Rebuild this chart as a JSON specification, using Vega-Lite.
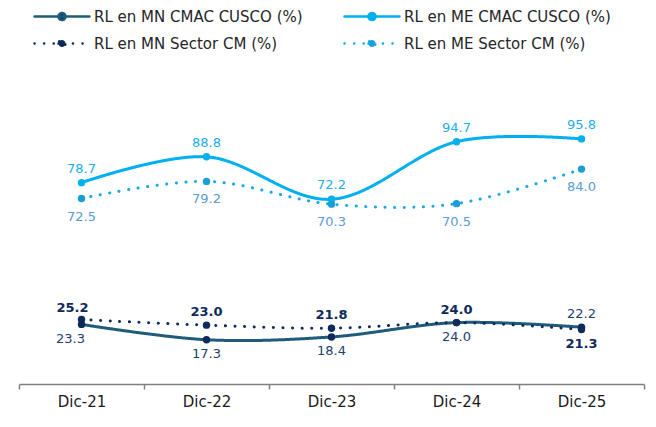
{
  "$schema": "https://vega.github.io/schema/vega-lite/v6.json",
  "width": 625,
  "height": 307,
  "autosize": {"type": "none"},
  "padding": {"left": 19, "top": 77, "right": 12, "bottom": 43},
  "background": "white",
  "config": {"view": {"stroke": null}, "font": "DejaVu Sans"},
  "data": {
    "values": [
      {"fecha": "Dic-21", "serie": "RL en MN CMAC CUSCO (%)", "valor": 23.3},
      {"fecha": "Dic-22", "serie": "RL en MN CMAC CUSCO (%)", "valor": 17.3},
      {"fecha": "Dic-23", "serie": "RL en MN CMAC CUSCO (%)", "valor": 18.4},
      {"fecha": "Dic-24", "serie": "RL en MN CMAC CUSCO (%)", "valor": 24.0},
      {"fecha": "Dic-25", "serie": "RL en MN CMAC CUSCO (%)", "valor": 22.2},
      {"fecha": "Dic-21", "serie": "RL en ME CMAC CUSCO (%)", "valor": 78.7},
      {"fecha": "Dic-22", "serie": "RL en ME CMAC CUSCO (%)", "valor": 88.8},
      {"fecha": "Dic-23", "serie": "RL en ME CMAC CUSCO (%)", "valor": 72.2},
      {"fecha": "Dic-24", "serie": "RL en ME CMAC CUSCO (%)", "valor": 94.7},
      {"fecha": "Dic-25", "serie": "RL en ME CMAC CUSCO (%)", "valor": 95.8},
      {"fecha": "Dic-21", "serie": "RL en MN Sector CM (%)", "valor": 25.2},
      {"fecha": "Dic-22", "serie": "RL en MN Sector CM (%)", "valor": 23.0},
      {"fecha": "Dic-23", "serie": "RL en MN Sector CM (%)", "valor": 21.8},
      {"fecha": "Dic-24", "serie": "RL en MN Sector CM (%)", "valor": 24.0},
      {"fecha": "Dic-25", "serie": "RL en MN Sector CM (%)", "valor": 21.3},
      {"fecha": "Dic-21", "serie": "RL en ME Sector CM (%)", "valor": 72.5},
      {"fecha": "Dic-22", "serie": "RL en ME Sector CM (%)", "valor": 79.2},
      {"fecha": "Dic-23", "serie": "RL en ME Sector CM (%)", "valor": 70.3},
      {"fecha": "Dic-24", "serie": "RL en ME Sector CM (%)", "valor": 70.5},
      {"fecha": "Dic-25", "serie": "RL en ME Sector CM (%)", "valor": 84.0}
    ]
  },
  "encoding": {
    "x": {
      "field": "fecha",
      "type": "ordinal",
      "sort": ["Dic-21", "Dic-22", "Dic-23", "Dic-24", "Dic-25"],
      "scale": {"type": "band", "paddingInner": 0, "paddingOuter": 0},
      "axis": {
        "title": null,
        "labelAngle": 0,
        "labelFont": "DejaVu Sans",
        "labelFontSize": 15,
        "labelColor": "#1a1a1a",
        "labelPadding": 5,
        "domainColor": "#808080",
        "domainWidth": 1.5,
        "tickColor": "#808080",
        "tickWidth": 1.5,
        "tickSize": 5,
        "tickBand": "extent",
        "grid": false
      }
    },
    "y": {
      "field": "valor",
      "type": "quantitative",
      "scale": {"domain": [0, 120]},
      "axis": null
    }
  },
  "layer": [
    {
      "mark": {"type": "line", "interpolate": "cardinal", "strokeWidth": 3, "strokeCap": "round"},
      "encoding": {
        "color": {
          "field": "serie",
          "type": "nominal",
          "scale": {
            "domain": ["RL en MN CMAC CUSCO (%)", "RL en ME CMAC CUSCO (%)", "RL en MN Sector CM (%)", "RL en ME Sector CM (%)"],
            "range": ["#1F5C7C", "#00B0F0", "#0E2A5C", "#12A9E8"]
          },
          "legend": {
            "orient": "none",
            "direction": "horizontal",
            "legendX": 35.5,
            "legendY": -68,
            "columns": 2,
            "title": null,
            "padding": 0,
            "symbolType": "M-5.5,0L5.5,0M-0.7,0A0.7,0.7,0,1,0,0.7,0A0.7,0.7,0,1,0,-0.7,0Z",
            "symbolSize": 100,
            "symbolStrokeWidth": 2.5,
            "symbolOpacity": 1,
            "labelFont": "DejaVu Sans",
            "labelFontSize": 15,
            "labelColor": "#262626",
            "labelOffset": 24.5,
            "labelLimit": 400,
            "rowPadding": 10,
            "columnPadding": 36,
            "encode": {"symbols": {"update": {"fill": {"scale": "fill", "field": "value"}, "opacity": {"value": 1}, "strokeCap": {"value": "round"}}}}
          }
        },
        "strokeDash": {
          "field": "serie",
          "type": "nominal",
          "scale": {
            "domain": ["RL en MN CMAC CUSCO (%)", "RL en ME CMAC CUSCO (%)", "RL en MN Sector CM (%)", "RL en ME Sector CM (%)"],
            "range": [[1, 0], [1, 0], [0.1, 9.5], [0.1, 9.5]]
          },
          "legend": {
            "orient": "none",
            "direction": "horizontal",
            "legendX": 35.5,
            "legendY": -68,
            "columns": 2,
            "title": null,
            "padding": 0,
            "symbolType": "M-5.5,0L5.5,0M-0.7,0A0.7,0.7,0,1,0,0.7,0A0.7,0.7,0,1,0,-0.7,0Z",
            "symbolSize": 100,
            "symbolStrokeWidth": 2.5,
            "symbolOpacity": 1,
            "labelFont": "DejaVu Sans",
            "labelFontSize": 15,
            "labelColor": "#262626",
            "labelOffset": 24.5,
            "labelLimit": 400,
            "rowPadding": 10,
            "columnPadding": 36,
            "encode": {"symbols": {"update": {"fill": {"scale": "fill", "field": "value"}, "opacity": {"value": 1}, "strokeCap": {"value": "round"}}}}
          }
        }
      }
    },
    {
      "mark": {"type": "point", "filled": true, "size": 55, "opacity": 1},
      "encoding": {
        "fill": {
          "field": "serie",
          "type": "nominal",
          "scale": {
            "domain": ["RL en MN CMAC CUSCO (%)", "RL en ME CMAC CUSCO (%)", "RL en MN Sector CM (%)", "RL en ME Sector CM (%)"],
            "range": ["#0E2A5C", "#00B0F0", "#0E2A5C", "#1A9ED8"]
          },
          "legend": null
        }
      }
    },
    {
      "transform": [{"filter": "datum.serie === 'RL en ME CMAC CUSCO (%)'"}],
      "mark": {"type": "text", "dy": -14, "fontSize": 13, "font": "DejaVu Sans", "color": "#22AEEC"},
      "encoding": {"text": {"field": "valor", "type": "quantitative", "format": ".1f"}}
    },
    {
      "transform": [{"filter": "datum.serie === 'RL en ME Sector CM (%)'"}],
      "mark": {"type": "text", "dy": 18, "fontSize": 13, "font": "DejaVu Sans", "color": "#5B9BD5"},
      "encoding": {"text": {"field": "valor", "type": "quantitative", "format": ".1f"}}
    },
    {
      "transform": [{"filter": "datum.serie === 'RL en MN CMAC CUSCO (%)' && datum.fecha !== 'Dic-25' && datum.fecha !== 'Dic-21'"}],
      "mark": {"type": "text", "dy": 14, "fontSize": 13, "font": "DejaVu Sans", "color": "#24406E"},
      "encoding": {"text": {"field": "valor", "type": "quantitative", "format": ".1f"}}
    },
    {
      "transform": [{"filter": "datum.serie === 'RL en MN CMAC CUSCO (%)' && datum.fecha === 'Dic-21'"}],
      "mark": {"type": "text", "dy": 15, "dx": -11, "fontSize": 13, "font": "DejaVu Sans", "color": "#24406E"},
      "encoding": {"text": {"field": "valor", "type": "quantitative", "format": ".1f"}}
    },
    {
      "transform": [{"filter": "datum.serie === 'RL en MN CMAC CUSCO (%)' && datum.fecha === 'Dic-25'"}],
      "mark": {"type": "text", "dy": -13, "fontSize": 13, "font": "DejaVu Sans", "color": "#24406E"},
      "encoding": {"text": {"field": "valor", "type": "quantitative", "format": ".1f"}}
    },
    {
      "transform": [{"filter": "datum.serie === 'RL en MN Sector CM (%)' && datum.fecha !== 'Dic-25' && datum.fecha !== 'Dic-21'"}],
      "mark": {"type": "text", "dy": -13, "fontSize": 13, "fontWeight": "bold", "font": "DejaVu Sans", "color": "#0E2A5C"},
      "encoding": {"text": {"field": "valor", "type": "quantitative", "format": ".1f"}}
    },
    {
      "transform": [{"filter": "datum.serie === 'RL en MN Sector CM (%)' && datum.fecha === 'Dic-21'"}],
      "mark": {"type": "text", "dy": -12, "dx": -9, "fontSize": 13, "fontWeight": "bold", "font": "DejaVu Sans", "color": "#0E2A5C"},
      "encoding": {"text": {"field": "valor", "type": "quantitative", "format": ".1f"}}
    },
    {
      "transform": [{"filter": "datum.serie === 'RL en MN Sector CM (%)' && datum.fecha === 'Dic-25'"}],
      "mark": {"type": "text", "dy": 14, "fontSize": 13, "fontWeight": "bold", "font": "DejaVu Sans", "color": "#0E2A5C"},
      "encoding": {"text": {"field": "valor", "type": "quantitative", "format": ".1f"}}
    }
  ]
}
